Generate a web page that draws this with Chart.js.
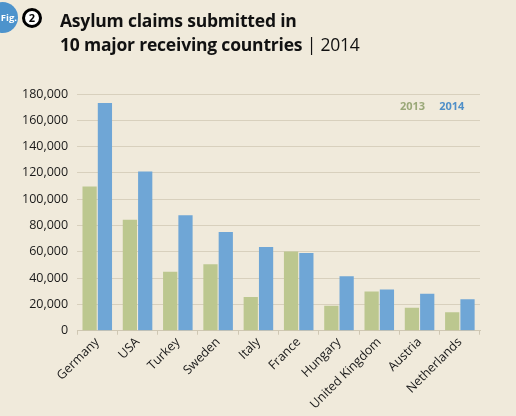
<!DOCTYPE html>
<html>
<head>
<meta charset="utf-8">
<script src="https://cdn.jsdelivr.net/npm/chart.js@4"></script>
<style>
  html, body { margin: 0; padding: 0; background: #f0eadb; }
  #wrap { position: relative; width: 516px; height: 416px; overflow: hidden; background: #f0eadb; }
  canvas { position: absolute; left: 0; top: 0; }
  #title { position: absolute; left: 60px; top: 8px; font-family: "Open Sans", sans-serif; font-size: 17.5px; line-height: 24px; color: #111; font-weight: 700; letter-spacing: -0.2px; }
  #title .yr { font-weight: 400; }
  #fig { position: absolute; left: -13px; top: 2px; width: 31px; height: 31px; border-radius: 50%; background: #4d93cc; color: #fff; font-family: "Open Sans", sans-serif; font-size: 9.5px; font-weight: 700; line-height: 31px; text-align: right; box-sizing: border-box; padding-right: 1px; }
  #num { position: absolute; left: 22px; top: 8px; width: 14px; height: 14px; border-radius: 50%; border: 3.5px solid #000; background: #fff; color: #000; font-family: "Open Sans", sans-serif; font-size: 11px; font-weight: 700; line-height: 14px; text-align: center; }
</style>
</head>
<body>
<div id="wrap">
  <canvas id="c" width="516" height="416"></canvas>
  <div id="fig">Fig.</div>
  <div id="num">2</div>
  <div id="title">Asylum claims submitted in<br>10 major receiving countries <span class="yr">| 2014</span></div>
</div>
<script>
const categories = ["Germany", "USA", "Turkey", "Sweden", "Italy", "France", "Hungary", "United Kingdom", "Austria", "Netherlands"];
const values2013 = [109580, 84400, 44810, 50500, 25720, 60230, 18900, 29880, 17500, 13990];
const values2014 = [173070, 121160, 87820, 75090, 63660, 59030, 41370, 31260, 28060, 23850];
const seriesLabels = ["2013", "2014"];
const yTicks = [0, 20000, 40000, 60000, 80000, 100000, 120000, 140000, 160000, 180000];

const GREEN = "#bcc78f";
const BLUE = "#6fa6d6";
const FONT = "'Open Sans', sans-serif";

const legendText = {
  id: "legendText",
  afterDraw(chart) {
    const ctx = chart.ctx;
    const area = chart.chartArea;
    ctx.save();
    ctx.font = "700 11px " + FONT;
    ctx.textBaseline = "middle";
    ctx.textAlign = "left";
    const y = area.top + 13;
    let x = area.right - 80;
    chart.data.datasets.forEach((ds) => {
      ctx.fillStyle = ds.legendColor;
      ctx.fillText(ds.label, x, y);
      x += ctx.measureText(ds.label).width + 14;
    });
    ctx.restore();
  }
};

new Chart(document.getElementById("c"), {
  type: "bar",
  data: {
    labels: categories,
    datasets: [
      { label: seriesLabels[0], data: values2013, backgroundColor: GREEN, legendColor: "#9aa878", categoryPercentage: 0.76, barPercentage: 0.93 },
      { label: seriesLabels[1], data: values2014, backgroundColor: BLUE, legendColor: "#4f8fc8", categoryPercentage: 0.76, barPercentage: 0.93 }
    ]
  },
  options: {
    responsive: false,
    animation: false,
    devicePixelRatio: 1,
    layout: { padding: { left: 13, right: 36, top: 94, bottom: 4 } },
    plugins: { legend: { display: false }, title: { display: false }, tooltip: { enabled: false } },
    scales: {
      x: {
        offset: true,
        border: { display: true, color: "#cfc7b3", width: 1 },
        grid: { offset: true, drawOnChartArea: false, drawTicks: true, tickLength: 4, color: "#cfc7b3" },
        ticks: { color: "#1a1a1a", font: { family: FONT, size: 12.5 }, minRotation: 45, maxRotation: 45, padding: 0, autoSkip: false }
      },
      y: {
        min: 0, max: 180000,
        afterBuildTicks(scale) { scale.ticks = yTicks.map(v => ({ value: v })); },
        border: { display: false },
        grid: { color: "#d8d0bd", drawTicks: false, lineWidth: 1 },
        ticks: { color: "#1a1a1a", font: { family: FONT, size: 12.5 }, padding: 9, callback: v => v.toLocaleString("en-US") }
      }
    }
  },
  plugins: [legendText]
});
</script>
</body>
</html>
